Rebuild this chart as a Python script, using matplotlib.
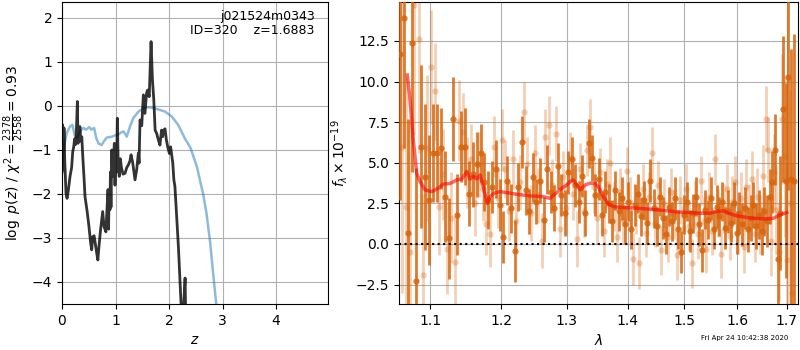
import matplotlib
matplotlib.use('Agg')
import matplotlib.pyplot as plt
from matplotlib.ticker import NullLocator
import numpy as np

# ── p(z) panel ──────────────────────────────────────────
pz_z = [0.0, 0.012, 0.025, 0.037, 0.05, 0.075, 0.095, 0.12, 0.15, 0.18, 0.2, 0.22,
        0.235, 0.25, 0.265, 0.287, 0.30, 0.315, 0.336, 0.35, 0.37, 0.386, 0.41, 0.43,
        0.47, 0.5, 0.536, 0.555, 0.575, 0.6, 0.625, 0.648, 0.67, 0.69, 0.72, 0.76,
        0.785, 0.82, 0.84, 0.86, 0.87, 0.88, 0.895, 0.905, 0.915, 0.93, 0.945, 0.96,
        0.978, 0.99, 1.005, 1.02, 1.034, 1.05, 1.07, 1.09, 1.11, 1.14, 1.178, 1.21,
        1.24, 1.27, 1.29, 1.32, 1.364, 1.395, 1.427, 1.44, 1.458, 1.49, 1.52, 1.55,
        1.58, 1.6, 1.63, 1.664, 1.69, 1.715, 1.74, 1.77, 1.80, 1.83, 1.86, 1.88, 1.90,
        1.925, 1.95, 1.975, 2.006, 2.03, 2.07, 2.09, 2.11, 2.175, 2.24, 2.27, 2.30,
        2.32, 2.4, 3.0, 5.0]
pz_logp = [-1.5, -0.43, -1.45, -0.5, -1.2, -2.0, -2.1, -1.9, -1.6, -1.4, -1.05, -0.92,
           -0.75, -0.88, -0.7, 0.1, -0.85, -0.55, -0.47, -0.8, -0.7, -1.1, -1.6, -2.06,
           -2.4, -2.7, -3.12, -3.27, -2.97, -2.95, -3.15, -3.34, -3.5, -3.2, -2.82, -2.4,
           -2.74, -2.86, -2.36, -1.9, -2.8, -1.98, -2.36, -1.5, -2.3, -1.0, -1.6, -1.23,
           -0.85, -1.8, -1.0, -1.5, -0.28, -1.3, -1.6, -1.2, -1.4, -1.55, -1.53, -1.4,
           -1.34, -1.25, -1.11, -1.28, -1.68, -1.45, -1.07, -1.3, -0.32, -0.45, 0.25, -0.17,
           0.29, 0.36, 0.21, 1.46, 0.59, 0.14, -0.55, -0.63, -0.77, -0.89, -0.55, -0.7, -0.55,
           -0.52, -0.77, -0.93, -1.08, -0.93, -1.30, -1.68, -1.83, -3.2, -4.9, -4.6, -3.91,
           -5.5, -8.0, -12.0, -15.0]

chi_z = [0.0, 0.025, 0.05, 0.087, 0.15, 0.195, 0.243, 0.28, 0.336, 0.4, 0.45, 0.51, 0.55,
         0.6, 0.64, 0.68, 0.74, 0.78, 0.835, 0.93, 0.99, 1.05, 1.11, 1.15, 1.21, 1.27,
         1.33, 1.43, 1.52, 1.62, 1.71, 1.8, 1.925, 2.05, 2.17, 2.3, 2.4, 2.52, 2.64, 2.70,
         2.77, 2.83, 2.89, 3.0, 5.0]
chi_val = [-1.4, -1.1, -0.85, -0.62, -0.47, -0.43, -0.70, -0.73, -0.58, -0.5, -0.54, -0.48,
           -0.54, -0.5, -0.73, -0.85, -0.89, -0.81, -0.72, -0.70, -0.67, -0.65, -0.6, -0.58,
           -0.7, -0.47, -0.28, -0.13, -0.05, -0.03, -0.05, -0.08, -0.13, -0.24, -0.43, -0.75,
           -0.95, -1.38, -2.02, -2.44, -3.12, -3.88, -4.6, -6.0, -20.0]

# ── spectrum panel ──────────────────────────────────────
dark_flux = [11.7, 13.9, 0.7, 12.4, -2.3, 6.0, 4.1, 2.7, 5.6, 5.6,
             5.9, 2.9, 0.35, 7.7, 1.8, 6.0, 6.0, 3.1, 4.3, 4.9,
             5.6, 3.8, 2.7, 3.5, 4.6, 2.4, 0.4, 3.9, 2.2, -0.45,
             3.5, 6.3, 3.3, 2.0, 4.1, 2.6, 3.9, 1.5, 4.6, 3.2,
             2.2, 4.8, 3.0, 1.9, 4.4, 5.2, 3.6, 2.6, 4.2, 1.9,
             6.2, 5.3, 3.0, 4.0, 1.8, 3.2, 2.5, 1.4, 3.3, 2.0,
             2.8, 1.2, 2.6, 0.9, 2.4, 3.1, 1.7, 2.7, 1.3, 3.9,
             2.2, 1.1, 2.9, 1.6, 0.6, 2.3, 1.4, 2.8, 0.9, -0.5,
             1.8, 2.6, 0.8, 1.9, 2.9, 1.2, -0.4, 2.1, 1.5, 2.8,
             0.9, 2.3, 1.7, 2.6, 1.0, 2.0, 1.3, 2.5, 0.7, 1.9,
             1.2, 2.2, 0.9, 1.6, 2.4, 1.1, 1.8, 0.8, 2.0, 1.4,
             2.9, 3.8, 5.8, -0.9, 1.9, 8.3, 3.9, 10.3, 4.0, 3.9]
dark_err = [9, 8, 7, 8, 7, 5, 4.5, 4, 3, 3,
            2.5, 2.8, 2.5, 2.6, 2.5, 2.2, 2.4, 2.0, 2.0, 2.0,
            1.8, 1.8, 1.8, 1.6, 1.8, 1.6, 1.6, 1.5, 1.5, 1.9,
            1.5, 1.6, 1.5, 1.4, 1.5, 1.4, 1.4, 1.4, 1.5, 1.3,
            1.4, 1.4, 1.3, 1.4, 1.3, 1.4, 1.3, 1.3, 1.3, 1.4,
            1.5, 1.4, 1.3, 1.3, 1.3, 1.3, 1.2, 1.3, 1.2, 1.2,
            1.3, 1.2, 1.2, 1.2, 1.3, 1.2, 1.2, 1.2, 1.3, 1.3,
            1.2, 1.2, 1.2, 1.3, 1.2, 1.2, 1.2, 1.3, 1.2, 1.3,
            1.2, 1.2, 1.3, 1.2, 1.2, 1.3, 1.3, 1.2, 1.2, 1.3,
            1.2, 1.3, 1.2, 1.2, 1.3, 1.3, 1.2, 1.3, 1.3, 1.3,
            1.3, 1.3, 1.4, 1.4, 1.4, 1.4, 1.5, 1.5, 1.5, 1.6,
            1.7, 1.9, 2.2, 2.8, 3.5, 4.5, 6, 7, 8, 9]
dark_lam = 1.060 + 0.0055 * np.arange(len(dark_flux))

light_flux = [6.0, 2.3, -0.5, 14.7, 12.6, -1.9, 5.9, 10.9, 9.4, 2.3,
              4.3, -0.3, 1.6, -1.1, 7.6, 6.9, 4.4, 5.2, 2.5, 4.9,
              3.4, 1.2, 0.6, 6.0, 2.8, 6.4, 4.6, 2.0, 5.2, 1.4,
              3.8, 8.1, 4.9, 1.9, 5.6, 3.0, 0.2, 6.6, 7.3, 3.6,
              6.8, 0.9, 4.1, 2.2, 5.3, 3.1, 0.3, 4.6, 2.0, 5.8,
              7.2, 3.5, 1.6, 4.4, 0.8, 3.7, 5.0, 2.3, 0.4, 3.2,
              1.5, 4.5, 2.6, -0.9, 2.1, -1.2, 3.4, 0.7, 2.9, 5.6,
              1.3, 3.6, -0.4, 2.5, 0.4, 3.2, 1.8, -0.7, 2.7, 0.9,
              3.4, 1.1, -1.2, 2.4, 0.6, 3.9, 1.4, -0.3, 2.9, 0.8,
              5.2, 1.9, -0.6, 2.2, 3.4, 0.5, 2.6, 3.8, 1.0, 2.8,
              -0.2, 3.5, 2.0, 4.0, 0.6, 2.9, 1.2, 4.2, 7.7, 5.8,
              0.2, 4.4, 2.1, -0.5, 7.7, 5.4, -1.0, 2.5, -3.0]
light_err = [9, 8, 8, 8, 7, 5, 4.5, 3.5, 3, 3,
             2.8, 2.8, 2.8, 2.8, 2.5, 2.4, 2.2, 2.2, 2.0, 2.0,
             2.0, 1.9, 2.0, 1.9, 1.8, 1.9, 1.8, 1.8, 1.8, 1.8,
             1.7, 1.9, 1.7, 1.7, 1.7, 1.7, 1.7, 1.7, 1.8, 1.6,
             1.7, 1.7, 1.6, 1.6, 1.6, 1.6, 1.7, 1.6, 1.6, 1.6,
             1.7, 1.6, 1.6, 1.5, 1.6, 1.5, 1.6, 1.5, 1.5, 1.5,
             1.5, 1.5, 1.5, 1.6, 1.5, 1.6, 1.5, 1.5, 1.5, 1.6,
             1.5, 1.5, 1.5, 1.5, 1.5, 1.5, 1.5, 1.5, 1.5, 1.5,
             1.5, 1.5, 1.5, 1.5, 1.5, 1.5, 1.5, 1.5, 1.5, 1.5,
             1.6, 1.5, 1.5, 1.5, 1.5, 1.5, 1.6, 1.6, 1.6, 1.6,
             1.6, 1.7, 1.7, 1.7, 1.7, 1.8, 1.8, 1.9, 2.0, 2.0,
             2.2, 2.4, 2.7, 3, 4, 5, 6, 7, 8]
light_lam = 1.0628 + 0.0055 * np.arange(len(light_flux))

model_lam = [1.0699, 1.0735, 1.0778, 1.0823, 1.0867, 1.0933, 1.1023, 1.1112, 1.118,
             1.1272, 1.1364, 1.1434, 1.1504, 1.155, 1.1597, 1.1645, 1.1692, 1.1749,
             1.1796, 1.1835, 1.1893, 1.198, 1.2079, 1.2228, 1.2428, 1.2631, 1.2735,
             1.284, 1.2919, 1.2998, 1.305, 1.3102, 1.3157, 1.321, 1.3291, 1.3372,
             1.3454, 1.3508, 1.3591, 1.3674, 1.3758, 1.3926, 1.4156, 1.4388, 1.4623,
             1.4865, 1.5107, 1.5293, 1.548, 1.5608, 1.5733, 1.5831, 1.5993, 1.6255,
             1.6522, 1.6725, 1.6861, 1.70]
model_flux = [10.4, 8.87, 6.4, 4.35, 3.84, 3.33, 3.22, 3.43, 3.69,
              3.72, 3.94, 4.0, 4.45, 4.0, 4.15, 4.0, 4.25, 3.33,
              2.5, 2.91, 3.12, 3.22, 3.16, 3.06, 2.96, 2.91, 2.81,
              3.16, 3.43, 3.63, 3.84, 3.94, 3.63, 3.33, 3.63, 3.74,
              3.72, 3.53, 2.91, 2.46, 2.3, 2.24, 2.2, 2.14, 2.06,
              1.97, 1.93, 1.89, 1.89, 2.0, 2.04, 1.89, 1.73, 1.6,
              1.54, 1.58, 1.79, 1.93]

ORANGE = '#d8650c'

fig = plt.figure(figsize=(8, 3.5), dpi=100)
ax1 = fig.add_axes([0.0775, 0.1314, 0.3325, 0.8629])
ax2 = fig.add_axes([0.4988, 0.1314, 0.4988, 0.8629])

# 左：p(z)
ax1.plot(chi_z, chi_val, color='tab:blue', alpha=0.5, lw=1.8)
ax1.plot(pz_z, pz_logp, color='k', alpha=0.8, lw=2)
ax1.set_xlim(0, 4.97)
ax1.set_ylim(-4.5, 2.36)
ax1.set_xticks([0, 1, 2, 3, 4])
ax1.set_yticks([-4, -3, -2, -1, 0, 1, 2])
ax1.grid()
ax1.set_xlabel(r'$z$')
ax1.set_ylabel(r'$\log\ p(z)$ / $\chi^2=\frac{2378}{2558}=0.93$')
ax1.text(0.95, 0.975, 'j021524m0343\nID=320    z=1.6883', transform=ax1.transAxes,
         ha='right', va='top', fontsize=9, linespacing=1.1)

# 右：spectrum
ax2.errorbar(light_lam, light_flux, yerr=light_err, fmt='o', color=ORANGE, alpha=0.3,
             ms=4.5, lw=2, elinewidth=2, mew=0, zorder=2)
ax2.errorbar(dark_lam, dark_flux, yerr=dark_err, fmt='o', color=ORANGE, alpha=0.85,
             ms=4.5, lw=2, elinewidth=2, mew=0, zorder=3)
ax2.plot(model_lam, model_flux, color='r', alpha=0.6, lw=2.5, zorder=4)
ax2.axhline(0, color='k', ls=':', lw=1.5, zorder=5)
ax2.set_xscale('log')
ax2.set_xlim(1.0592, 1.7236)
ax2.set_ylim(-3.7, 14.9)
ax2.set_xticks([1.1, 1.2, 1.3, 1.4, 1.5, 1.6, 1.7])
ax2.set_xticklabels(['1.1', '1.2', '1.3', '1.4', '1.5', '1.6', '1.7'])
ax2.xaxis.set_minor_locator(NullLocator())
ax2.set_yticks([-2.5, 0, 2.5, 5, 7.5, 10, 12.5])
ax2.grid()
ax2.set_xlabel(r'$\lambda$')
ax2.set_ylabel(r'$f_\lambda\times10^{-19}$')

fig.text(0.985, 0.025, 'Fri Apr 24 10:42:38 2020', ha='right', va='bottom', fontsize=5)

fig.savefig('out.png', dpi=100)
